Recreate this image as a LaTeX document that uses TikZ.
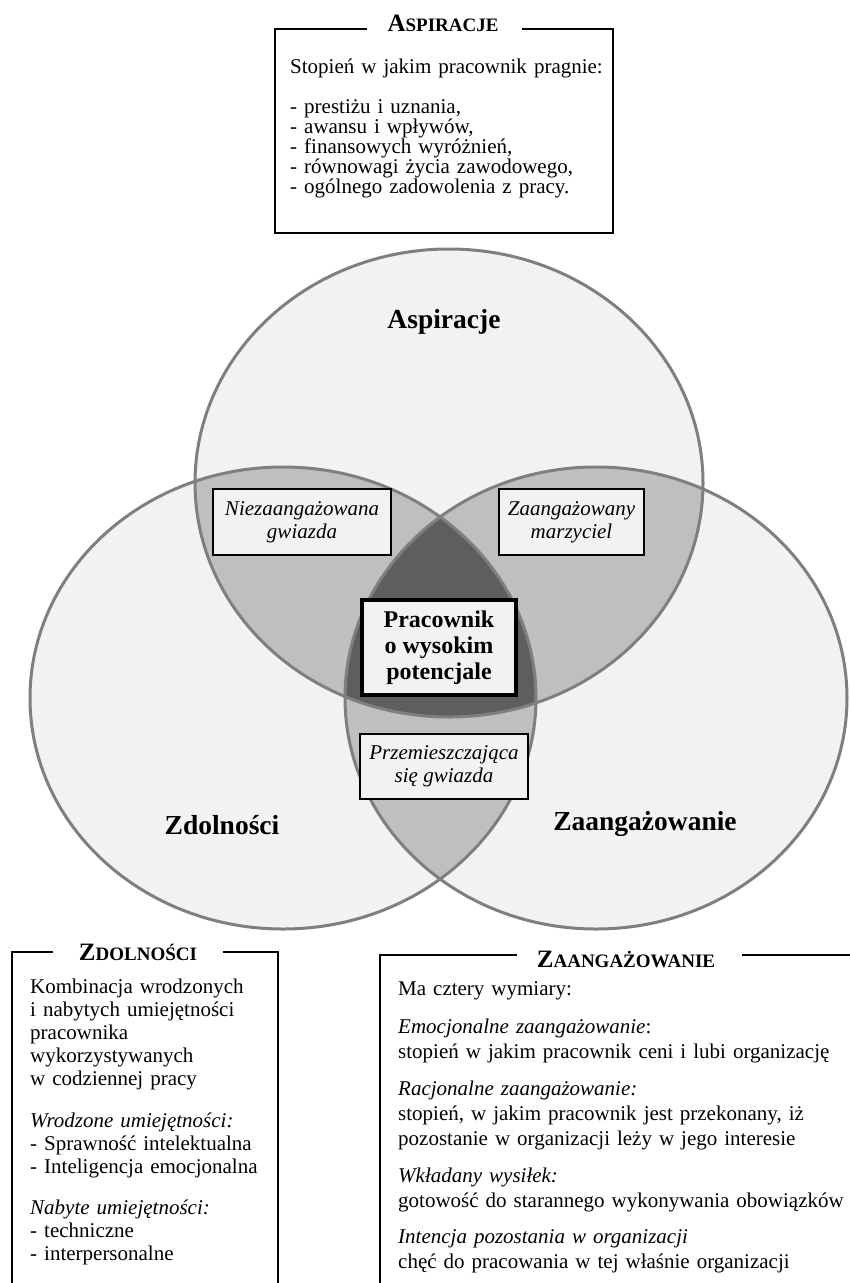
\documentclass[tikz,border=0pt]{standalone}
\usepackage{fontspec}
\setmainfont{Liberation Serif}
\definecolor{vlight}{HTML}{F2F2F2}
\definecolor{vmid}{HTML}{BFBFBF}
\definecolor{vdark}{HTML}{5E5E5E}
\definecolor{vline}{HTML}{7F7F7F}
\tikzset{
  venn/.style={draw=vline, line width=3pt},
  boxline/.style={draw=black, line width=2.5pt},
  biglabel/.style={font=\fontsize{27.5}{30}\selectfont\bfseries, inner sep=0pt, anchor=base},
  smallbox/.style={draw=black, line width=2.5pt, fill=vlight, align=center, inner sep=0pt,
    font=\fontsize{21}{23}\selectfont\itshape},
  ttl/.style={inner sep=0pt, anchor=base, font=\bfseries},
  bodytext/.style={inner sep=0pt, anchor=base west, align=left, text width=460pt}
}
\newcommand{\tcap}[2]{{\fontsize{25}{25}\selectfont #1}{\fontsize{19}{19}\selectfont #2}}
\def\ellA{(449,483) ellipse (254pt and 234pt)}
\def\ellZ{(283,698) ellipse (253pt and 231pt)}
\def\ellG{(596,698) ellipse (251pt and 231pt)}
\begin{document}
\begin{tikzpicture}[x=1pt, y=-1pt]
\useasboundingbox (0,0) rectangle (850,1283);
% Venn fills
\fill[vlight] \ellA;
\fill[vlight] \ellZ;
\fill[vlight] \ellG;
\begin{scope}
  \clip \ellA;
  \fill[vmid] \ellZ;
  \fill[vmid] \ellG;
\end{scope}
\begin{scope}
  \clip \ellZ;
  \fill[vmid] \ellG;
\end{scope}
\begin{scope}
  \clip \ellA;
  \clip \ellZ;
  \fill[vdark] \ellG;
\end{scope}
\draw[venn] \ellA;
\draw[venn] \ellZ;
\draw[venn] \ellG;

% circle labels
\node[biglabel] (lA) at (444,328) {Aspiracje};
\node[biglabel] (lZ) at (222,834) {Zdolności};
\node[biglabel] (lG) at (645,830) {Zaangażowanie};

% intersection boxes
\node[smallbox, minimum width=178pt, minimum height=66pt] (nz) at (302,522) {Niezaangażowana\\gwiazda};
\node[smallbox, minimum width=145pt, minimum height=66pt] (zm) at (571.5,522) {Zaangażowany\\marzyciel};
\node[smallbox, line width=4.5pt, minimum width=154pt, minimum height=95pt,
      font=\fontsize{24}{26}\selectfont\bfseries] (hp) at (439,647.5) {Pracownik\\o wysokim\\potencjale};
\node[smallbox, minimum width=168pt, minimum height=65pt] (pg) at (444,766.5) {Przemieszczająca\\się gwiazda};

% Aspiracje box
\draw[boxline] (367,29) -- (275,29) -- (275,233) -- (613,233) -- (613,29) -- (522,29);
\node[ttl] (tA) at (443,31) {\tcap{A}{SPIRACJE}};
\node[bodytext, font=\fontsize{21}{20}\selectfont] (aIntro) at (290,73) {Stopień w jakim pracownik pragnie:};
\node[bodytext, font=\fontsize{21}{20}\selectfont] (aList) at (290,113) {- prestiżu i uznania,\\- awansu i wpływów,\\- finansowych wyróżnień,\\- równowagi życia zawodowego,\\- ogólnego zadowolenia z pracy.};

% Zdolnosci box
\draw[boxline] (53,952) -- (12,952) -- (12,1290);
\draw[boxline] (223,952) -- (278,952) -- (278,1290);
\node[ttl] (tZ) at (138,960) {\tcap{Z}{DOLNOŚCI}};
\node[bodytext, font=\fontsize{21}{23}\selectfont] (zText) at (30,993) {Kombinacja wrodzonych\\i nabytych umiejętności\\pracownika\\wykorzystywanych\\w codziennej pracy\\[19pt]
\textit{Wrodzone umiejętności:}\\- Sprawność intelektualna\\- Inteligencja emocjonalna\\[18pt]
\textit{Nabyte umiejętności:}\\- techniczne\\- interpersonalne};

% Zaangazowanie box
\draw[boxline] (517,955) -- (380,955) -- (380,1290);
\draw[boxline] (742,955) -- (860,955);
\node[ttl] (tG) at (626,967) {\tcap{Z}{AANGAŻOWANIE}};
\node[bodytext, font=\fontsize{21}{25}\selectfont] (gText) at (398,995) {Ma cztery wymiary:\\[13pt]
\textit{Emocjonalne zaangażowanie}:\\stopień w jakim pracownik ceni i lubi organizację\\[12pt]
\textit{Racjonalne zaangażowanie:}\\stopień, w jakim pracownik jest przekonany, iż\\pozostanie w organizacji leży w jego interesie\\[12pt]
\textit{Wkładany wysiłek:}\\gotowość do starannego wykonywania obowiązków\\[11pt]
\textit{Intencja pozostania w organizacji}\\chęć do pracowania w tej właśnie organizacji};
\end{tikzpicture}
\end{document}
